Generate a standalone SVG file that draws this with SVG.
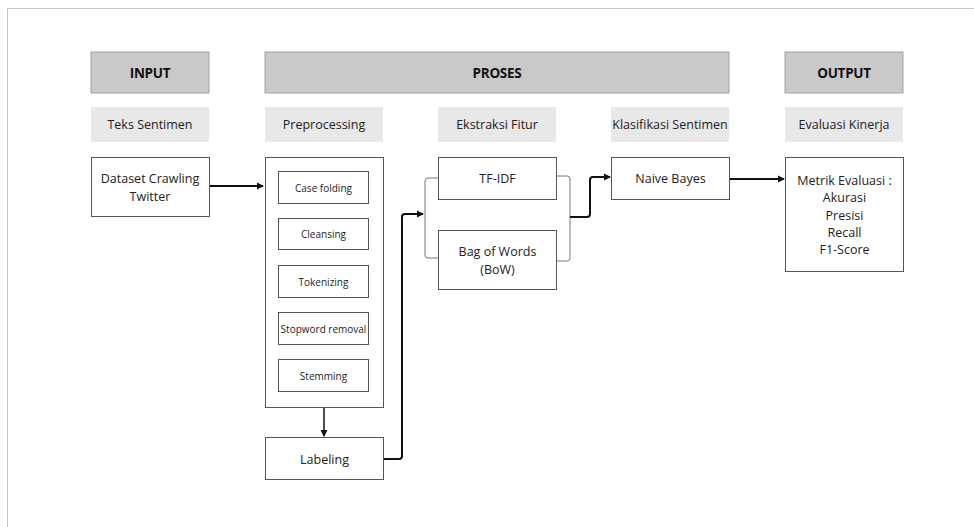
<svg xmlns="http://www.w3.org/2000/svg" width="974" height="527" viewBox="0 0 974 527">
<defs>
<style>
.hdr{fill:#c9c9c9;stroke:#a0a0a0;stroke-width:1}
.lbl{fill:#e8e8e8}
.box{fill:#fff;stroke:#555;stroke-width:1}
.t{font-family:"Open Sans","Liberation Sans",sans-serif;font-size:12.5px;fill:#222;text-anchor:middle;dominant-baseline:central}
.s{font-size:10px}
.b{font-weight:bold;font-size:13.5px;fill:#111;letter-spacing:-0.3px}
.c{fill:none;stroke:#111;stroke-width:2}
.br{fill:none;stroke:#777;stroke-width:1}
</style>
<marker id="ah" markerWidth="8" markerHeight="8" refX="6" refY="4" orient="auto" markerUnits="userSpaceOnUse">
<path d="M0,0.5 L7,4 L0,7.5 z" fill="#111"/>
</marker>
</defs>
<rect width="974" height="527" fill="#fff"/>
<rect x="7.5" y="8.5" width="980" height="540" fill="none" stroke="#c8c8c8"/>

<g id="hdr-input"><rect class="hdr" x="91" y="52" width="118" height="41"/><text class="t b" x="150" y="72.5">INPUT</text></g>
<g id="hdr-proses"><rect class="hdr" x="265" y="52" width="464" height="41"/><text class="t b" x="497" y="72.5">PROSES</text></g>
<g id="hdr-output"><rect class="hdr" x="785" y="52" width="118" height="41"/><text class="t b" x="844" y="72.5">OUTPUT</text></g>

<g id="lbl-teks"><rect class="lbl" x="91" y="107" width="118" height="35"/><text class="t" x="150" y="124.5">Teks Sentimen</text></g>
<g id="lbl-pre"><rect class="lbl" x="265" y="107" width="118" height="35"/><text class="t" x="324" y="124.5">Preprocessing</text></g>
<g id="lbl-eks"><rect class="lbl" x="438" y="107" width="118" height="35"/><text class="t" x="497" y="124.5">Ekstraksi Fitur</text></g>
<g id="lbl-kla"><rect class="lbl" x="611" y="107" width="118" height="35"/><text class="t" x="670" y="124.5">Klasifikasi Sentimen</text></g>
<g id="lbl-eva"><rect class="lbl" x="785" y="107" width="118" height="35"/><text class="t" x="844" y="124.5">Evaluasi Kinerja</text></g>

<g id="dataset"><rect class="box" x="91.5" y="157.5" width="118" height="59"/><text class="t" x="150" y="178">Dataset Crawling</text><text class="t" x="150" y="196">Twitter</text></g>

<g id="preprocessing"><rect class="box" x="265.5" y="157.5" width="118" height="250"/></g>
<g id="casefolding"><rect class="box" x="278.5" y="171.5" width="90" height="32"/><text class="t s" x="323.5" y="187.5">Case folding</text></g>
<g id="cleansing"><rect class="box" x="278.5" y="218.5" width="90" height="31"/><text class="t s" x="323.5" y="234">Cleansing</text></g>
<g id="tokenizing"><rect class="box" x="278.5" y="265.5" width="90" height="32"/><text class="t s" x="323.5" y="281.5">Tokenizing</text></g>
<g id="stopword"><rect class="box" x="278.5" y="312.5" width="90" height="32"/><text class="t s" x="323.5" y="328.5">Stopword removal</text></g>
<g id="stemming"><rect class="box" x="278.5" y="359.5" width="90" height="32"/><text class="t s" x="323.5" y="375.5">Stemming</text></g>

<g id="labeling"><rect class="box" x="265.5" y="437.5" width="118" height="42"/><text class="t" x="324.5" y="459">Labeling</text></g>

<g id="tfidf"><rect class="box" x="438.5" y="157.5" width="118" height="42"/><text class="t" x="497.5" y="178.5">TF-IDF</text></g>
<g id="bow"><rect class="box" x="438.5" y="230.5" width="118" height="59"/><text class="t" x="497.5" y="251">Bag of Words</text><text class="t" x="497.5" y="269">(BoW)</text></g>

<g id="naivebayes"><rect class="box" x="611.5" y="157.5" width="118" height="42"/><text class="t" x="670.5" y="178.5">Naive Bayes</text></g>

<g id="metrik"><rect class="box" x="785.5" y="157.5" width="118" height="114"/>
<text class="t" x="844.5" y="180">Metrik Evaluasi :</text>
<text class="t" x="844.5" y="197.5">Akurasi</text>
<text class="t" x="844.5" y="215">Presisi</text>
<text class="t" x="844.5" y="232">Recall</text>
<text class="t" x="844.5" y="249.5">F1-Score</text>
</g>

<g id="connectors">
<path class="c" d="M210,186 H263" marker-end="url(#ah)"/>
<path class="c" style="stroke-width:1.5" d="M324,408 V436" marker-end="url(#ah)"/>
<path class="c" d="M384,459 H399 Q402,459 402,456 V217 Q402,214 405,214 H423" marker-end="url(#ah)"/>
<path class="br" d="M438,178 H428 Q425,178 425,181 V255 Q425,258 428,258 H438"/>
<path class="br" d="M557,176 H567 Q570,176 570,179 V258 Q570,261 567,261 H557"/>
<path class="c" d="M570,217 H587 Q590,217 590,214 V180 Q590,177 593,177 H610" marker-end="url(#ah)"/>
<path class="c" d="M730,179 H784" marker-end="url(#ah)"/>
</g>
</svg>
